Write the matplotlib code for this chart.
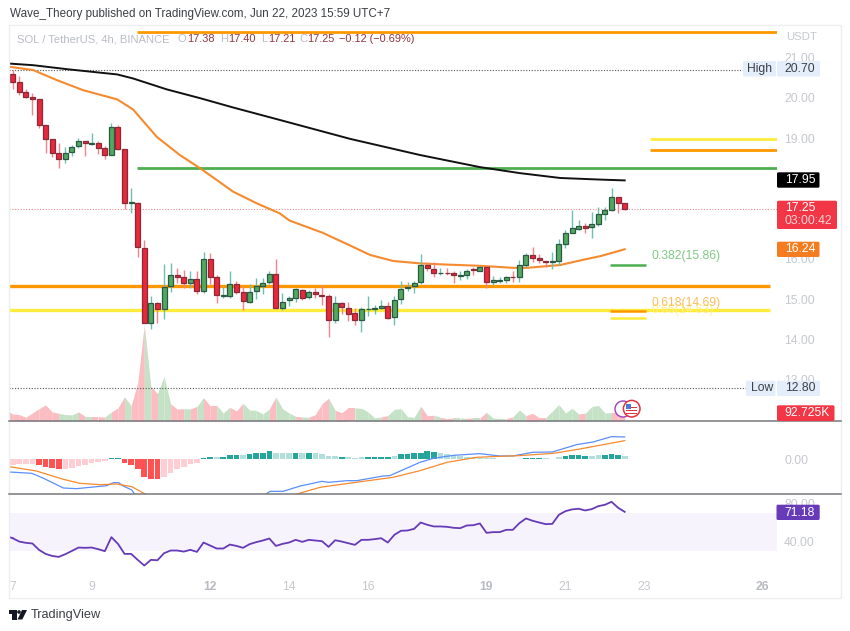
import matplotlib
matplotlib.use('Agg')
import matplotlib.pyplot as plt
from matplotlib.patches import FancyBboxPatch, Rectangle, Polygon, Circle
import numpy as np

# 4h candles
opens = [20.59, 20.40, 20.15, 20.01, 19.96, 19.32, 18.97, 18.63, 18.47, 18.65, 18.80, 18.92, 18.86, 18.89, 18.76, 18.58, 19.27, 18.72, 17.39, 17.40,
         16.27, 14.42, 14.91, 14.77, 15.32, 15.60, 15.56, 15.40, 15.51, 15.21, 15.99, 15.54, 15.07, 15.09, 15.39, 15.18, 14.94, 15.20, 15.33, 15.43,
         15.63, 14.79, 14.97, 15.02, 15.23, 15.05, 15.19, 15.10, 15.07, 14.49, 14.91, 14.79, 14.65, 14.48, 14.75, 14.77, 14.79, 14.84, 14.57, 15.01,
         15.27, 15.32, 15.42, 15.86, 15.75, 15.64, 15.65, 15.64, 15.58, 15.59, 15.74, 15.71, 15.81, 15.44, 15.45, 15.48, 15.56, 15.56, 15.86, 16.09,
         16.02, 15.96, 15.93, 15.95, 16.36, 16.65, 16.75, 16.82, 16.79, 16.88, 17.12, 17.22, 17.53, 17.38]
closes = [20.40, 20.15, 20.02, 19.96, 19.32, 18.97, 18.64, 18.47, 18.64, 18.79, 18.92, 18.87, 18.88, 18.76, 18.59, 19.27, 18.72, 17.40, 17.41, 16.29,
          14.42, 14.91, 14.77, 15.31, 15.60, 15.56, 15.40, 15.51, 15.21, 15.99, 15.55, 15.10, 15.10, 15.39, 15.19, 14.95, 15.17, 15.33, 15.41, 15.63,
          14.79, 14.94, 15.02, 15.25, 15.04, 15.18, 15.12, 15.09, 14.48, 14.91, 14.80, 14.64, 14.48, 14.76, 14.77, 14.78, 14.84, 14.54, 14.99, 15.26,
          15.30, 15.41, 15.84, 15.77, 15.64, 15.65, 15.64, 15.59, 15.59, 15.70, 15.73, 15.79, 15.44, 15.47, 15.48, 15.55, 15.55, 15.84, 16.09, 16.02,
          15.97, 15.93, 15.94, 16.36, 16.64, 16.76, 16.83, 16.78, 16.88, 17.12, 17.22, 17.53, 17.38, 17.25]
highs = [20.69, 20.54, 20.23, 20.11, 19.98, 19.33, 18.98, 18.89, 18.79, 18.83, 19.01, 18.94, 19.12, 18.94, 18.80, 19.38, 19.32, 18.73, 17.75, 17.41,
         16.47, 15.07, 14.92, 15.87, 15.89, 15.78, 15.73, 15.70, 15.69, 16.18, 16.16, 15.60, 15.31, 15.70, 15.46, 15.33, 15.38, 15.52, 15.52, 15.69,
         16.00, 15.15, 15.08, 15.27, 15.26, 15.23, 15.29, 15.35, 15.13, 15.08, 14.92, 14.92, 14.78, 14.80, 15.07, 14.86, 14.98, 14.93, 15.08, 15.46,
         15.44, 15.45, 16.12, 15.93, 15.92, 15.78, 15.77, 15.69, 15.69, 15.74, 15.79, 15.83, 15.83, 15.58, 15.54, 15.58, 15.69, 15.98, 16.14, 16.29,
         16.12, 15.96, 16.18, 16.50, 16.72, 17.22, 16.97, 16.90, 17.17, 17.28, 17.30, 17.75, 17.54, 17.40]
lows = [20.23, 20.07, 19.99, 19.57, 19.24, 18.62, 18.52, 18.25, 18.39, 18.56, 18.75, 18.56, 18.83, 18.61, 18.47, 18.57, 18.70, 17.23, 17.13, 16.04,
        14.40, 14.26, 14.42, 14.52, 15.19, 15.40, 15.27, 15.29, 15.12, 15.15, 15.38, 14.90, 15.02, 15.02, 15.12, 14.73, 14.90, 15.00, 15.12, 15.38,
        14.78, 14.73, 14.83, 14.92, 14.98, 15.00, 15.02, 14.86, 14.06, 14.42, 14.64, 14.45, 14.36, 14.18, 14.59, 14.63, 14.75, 14.52, 14.37, 14.88,
        15.21, 15.16, 15.37, 15.71, 15.56, 15.60, 15.60, 15.41, 15.48, 15.50, 15.60, 15.69, 15.27, 15.35, 15.41, 15.41, 15.44, 15.44, 15.79, 15.93,
        15.89, 15.79, 15.74, 15.85, 16.28, 16.64, 16.72, 16.64, 16.53, 16.82, 16.97, 17.20, 17.15, 17.21]

# volume in thousands
volumes = [68, 62, 37, 77, 117, 151, 87, 74, 62, 59, 87, 46, 43, 43, 40, 87, 124, 226, 145, 355,
           896, 324, 256, 417, 161, 114, 117, 114, 139, 219, 145, 148, 77, 130, 96, 167, 105, 102, 68, 114,
           226, 117, 77, 46, 40, 37, 62, 164, 213, 102, 80, 124, 124, 121, 87, 31, 40, 53, 111, 117,
           43, 37, 139, 53, 56, 37, 25, 31, 31, 28, 31, 31, 83, 31, 25, 25, 40, 105, 53, 74,
           34, 34, 93, 155, 77, 121, 68, 74, 136, 148, 77, 80, 93, 92.725]
# the candle just before the first full one, cut off by the left edge
volume_before = 105
rsi_before = 46.0

# moving averages, sampled along the curves
ma_black_x = [-0.5, 3.1, 8.3, 15.9, 18.3, 23.4, 28.5, 33.5, 40.6, 51.3, 61.9, 71, 77.1, 83.2, 89.3, 93]
ma_black = [20.85, 20.81, 20.71, 20.58, 20.48, 20.21, 19.99, 19.76, 19.45, 18.98, 18.58, 18.28, 18.13, 18.01, 17.97, 17.95]
ma_orange_x = [-0.5, 3.1, 6.7, 10.7, 15.9, 18.3, 21.9, 25.4, 28.5, 33.5, 37.1, 40.6, 42.1, 47.1, 50.8, 54.3, 57.8, 61.9, 66, 71, 76, 78.2, 83.2, 86.7, 89.3, 93]
ma_orange = [20.77, 20.69, 20.44, 20.19, 19.96, 19.71, 19.03, 18.58, 18.25, 17.67, 17.38, 17.13, 16.95, 16.65, 16.37, 16.10, 15.95, 15.89, 15.86, 15.83, 15.78, 15.78, 15.85, 15.98, 16.07, 16.24]

# MACD, in units of the pane (zero line = 0)
macd_hist = [-16, -14, -13, -13, -17, -23, -27, -30, -30, -26, -20, -16, -11, -8, -6, 4, 3, -10, -16, -30,
             -52, -60, -60, -52, -40, -30, -22, -15, -10, 5, 8, 8, 8, 12, 14, 12, 15, 18, 20, 25,
             20, 18, 18, 18, 18, 18, 18, 16, 11, 11, 8, 8, 5, 6, 7, 8, 8, 6, 10, 15,
             17, 18, 20, 24, 22, 19, 17, 12, 9, 8, 6, 5, 5, 3, 1, 1, 1, 2, 4, 5,
             4, 3, 2, 6, 10, 13, 14, 11, 11, 14, 14, 15, 12, 9]
macd_shade = 'llllddddlllllllddddddddllllllddlddd' + 'lddddllldldlllldlllddddlddddddl' + 'lllllllllllldddlllddddlldddll'
macd_x = [-0.5, 2.9, 4.7, 7.7, 9.7, 14.3, 15.3, 16.1, 16.8, 18.1, 18.6, 25, 32, 38.3, 39.1, 41.1, 43.7, 47, 48, 50.8, 52.3, 56.3, 57.3, 61.9, 63.9, 67, 71, 74, 76, 79, 82, 85.7, 88.2, 91, 93]
macd_line = [-38, -42, -57, -86, -88, -79, -70, -70, -80, -92, -107, -150, -150, -107, -96, -96, -80, -66, -69, -64, -64, -50, -49, -9, 3, 12, 17, 10, 10, 21, 22, 44, 52, 68, 67]
signal_x = [-0.5, 3.6, 7.7, 10.2, 13.3, 15.8, 18.1, 20.4, 27, 35, 43.2, 46.7, 51.8, 57.8, 61.9, 66, 70.5, 74, 77, 82.2, 86.2, 93]
signal_line = [-22, -35, -60, -72, -76, -74, -82, -107, -160, -160, -104, -84, -70, -54, -34, -9, 6, 9, 11, 18, 31, 56]

rsi = [43.8, 40.3, 39.0, 38.3, 31.7, 27.5, 25.4, 24.4, 27.2, 30.6, 34.1, 33.8, 34.1, 32.4, 30.3, 44.9, 37.9, 27.5, 27.5, 21.3,
       15.4, 21.3, 20.9, 28.2, 31.0, 31.0, 29.9, 31.7, 29.6, 39.3, 36.2, 33.1, 33.1, 37.2, 35.8, 33.8, 37.6, 39.7, 41.4, 43.5,
       35.8, 37.9, 39.3, 42.1, 40.0, 42.1, 41.4, 40.7, 34.8, 41.7, 40.3, 38.6, 36.9, 42.1, 42.1, 42.8, 43.8, 39.3, 47.3, 51.5,
       51.8, 53.5, 60.1, 57.7, 56.0, 56.0, 55.6, 54.6, 54.2, 57.0, 57.3, 59.1, 49.4, 50.1, 50.1, 52.5, 52.5, 59.4, 64.3, 61.9,
       60.1, 58.4, 58.7, 68.1, 71.9, 73.7, 74.4, 72.6, 74.0, 77.1, 78.5, 81.6, 75.4, 71.18]

day_labels = ['7', '9', '12', '14', '16', '19', '21', '23', '26']
day_bold = ['12', '19', '26']
price_ticks = [13, 14, 15, 16, 17, 18, 19, 20, 21]

plt.rcParams['font.family'] = ['Liberation Sans', 'DejaVu Sans']

W = 850.0
H = 631.0
X_LEFT = 9.0
X_RIGHT = 776.7
XMIN = -0.56
XMAX = 116.1
GRAY = '#c6c8ce'


def pane(top, bottom):
    ax = fig.add_axes([X_LEFT / W, 1 - bottom / H, (X_RIGHT - X_LEFT) / W, (bottom - top) / H])
    ax.set_xlim(XMIN, XMAX)
    ax.set_xticks([])
    ax.set_yticks([])
    for s in ax.spines.values():
        s.set_visible(False)
    ax.patch.set_alpha(0)
    return ax


def box(x0, y0, x1, y1, color):
    over.add_patch(FancyBboxPatch((x0, y0), x1 - x0, y1 - y0, boxstyle='round,pad=0,rounding_size=1.5',
                                  fc=color, ec='none', zorder=5))


def label(x, y, s, color, size=8.7, **kw):
    over.text(x, y, s, color=color, fontsize=size, va='center', zorder=6, **kw)


fig = plt.figure(figsize=(8.5, 6.31), dpi=100, facecolor='white')
idx = np.arange(len(opens))
opens = np.array(opens)
closes = np.array(closes)
highs = np.array(highs)
lows = np.array(lows)
up = closes >= opens

# volume sits under the candles, in the same pane
ax_vol = pane(24.5, 421.3)
ax_vol.set_ylim(0, 3678)
ax_vol.fill_between([-1, 0], [volume_before, volumes[0]], 0, color='#fbbcc2', lw=0)
for i in range(1, len(volumes)):
    c = '#c5e2c6' if up[i] else '#fbbcc2'
    ax_vol.fill_between(idx[i - 1:i + 1], volumes[i - 1:i + 1], 0, color=c, lw=0)

ax = pane(24.5, 421.3)
ax.set_ylim(11.97, 21.82)
ax.yaxis.tick_right()
ax.set_yticks(price_ticks)
ax.set_yticklabels(['%.2f' % p for p in price_ticks])
ax.tick_params(axis='y', length=0, labelcolor=GRAY, labelsize=8.7, pad=5.3)

# dotted levels
ax.hlines(20.70, XMIN, 111, color='#555555', lw=0.8, linestyles=(0, (1, 1.5)))
ax.hlines(12.80, XMIN, 111.4, color='#555555', lw=0.8, linestyles=(0, (1, 1.5)))
ax.hlines(17.25, XMIN, XMAX, color='#ef8f8a', lw=0.8, linestyles=(0, (1, 1.5)))

# drawings
ax.hlines(21.63, 18.9, XMAX, color='#ff9800', lw=2)
ax.hlines(18.27, 18.9, XMAX, color='#4caf50', lw=2)
ax.hlines(18.99, 96.85, XMAX, color='#ffeb3b', lw=2)
ax.hlines(18.70, 96.85, XMAX, color='#ff9800', lw=2)
ax.hlines(15.34, XMIN, 115.1, color='#ff9800', lw=2.4)
ax.hlines(14.73, XMIN, 115.1, color='#ffeb3b', lw=2.4)
ax.hlines(15.85, 90.8, 96.2, color='#4caf50', lw=1.8)
ax.hlines(14.70, 90.8, 96.2, color='#ff9800', lw=1.8)
ax.hlines(14.54, 90.8, 96.2, color='#ffeb3b', lw=1.8)

ax.plot(ma_black_x, ma_black, color='#111111', lw=1.4, zorder=3)
ax.plot(ma_orange_x, ma_orange, color='#f58a2e', lw=1.5, zorder=3)

# candles
wick_c = ['#6cc0b0' if u else '#f5828c' for u in up]
body_c = ['#53a860' if u else '#e9283c' for u in up]
edge_c = ['#2b5a44' if u else '#8a2a38' for u in up]
ax.vlines(idx, lows, highs, colors=wick_c, lw=1.0, zorder=4)
ax.bar(idx, np.abs(closes - opens), bottom=np.minimum(opens, closes), width=0.76,
       color=body_c, edgecolor=edge_c, lw=0.9, zorder=5)

# MACD
ax_macd = pane(421.3, 494)
ax_macd.set_ylim(-104, 114)
hist_c = []
for h, s in zip(macd_hist, macd_shade):
    if h >= 0:
        hist_c.append('#26a69a' if s == 'd' else '#b2dfdb')
    else:
        hist_c.append('#ff5252' if s == 'd' else '#ffcdd2')
ax_macd.bar(idx, macd_hist, width=0.86, color=hist_c)
ax_macd.plot(macd_x, macd_line, color='#5b8ff9', lw=0.9)
ax_macd.plot(signal_x, signal_line, color='#f58a2e', lw=0.9)
ax_macd.yaxis.tick_right()
ax_macd.set_yticks([0])
ax_macd.set_yticklabels(['0.00'])
ax_macd.tick_params(axis='y', length=0, labelcolor=GRAY, labelsize=8.7, pad=5.3)

# RSI
ax_rsi = pane(494, 598)
ax_rsi.set_ylim(-18.3, 89.7)
ax_rsi.axhspan(30, 70, color='#f6f3fc', lw=0)
ax_rsi.plot([-1, 0], [rsi_before, rsi[0]], color='#673ab7', lw=1.3)
ax_rsi.plot(idx, rsi, color='#673ab7', lw=1.3)
ax_rsi.yaxis.tick_right()
ax_rsi.set_yticks([40, 80])
ax_rsi.set_yticklabels(['40.00', '80.00'])
ax_rsi.tick_params(axis='y', length=0, labelcolor=GRAY, labelsize=8.7, pad=5.3)

for d in day_labels:
    pos = (int(d) - 7) * 6
    if d in day_bold:
        ax_rsi.text(pos, -7, d, color='#b9bbc2', fontsize=8.7, fontweight='bold', ha='center', va='center')
    else:
        ax_rsi.text(pos, -7, d, color=GRAY, fontsize=8.7, ha='center', va='center')

# overlay in picture pixels, for the frame, labels and boxes
over = fig.add_axes([0, 0, 1, 1], zorder=10)
over.set_xlim(0, W)
over.set_ylim(H, 0)
over.axis('off')

over.add_patch(Rectangle((X_LEFT, 24.5), 840.7 - X_LEFT, 598 - 24.5, fc='none', ec='#eceef1', lw=1))
over.plot([X_LEFT, 840.7], [421.3, 421.3], color='#77777d', lw=1.1)
over.plot([X_LEFT, 840.7], [494, 494], color='#77777d', lw=1.1)

label(10, 14.5, 'Wave_Theory published on TradingView.com, Jun 22, 2023 15:59 UTC+7', '#3c3f45', size=8.35)
label(17, 39.5, 'SOL / TetherUS, 4h, BINANCE', '#b9bcc5', size=8.1)
for x, s in [(178, 'O'), (220, 'H'), (261, 'L'), (299, 'C')]:
    label(x, 39.5, s, '#b9bcc5', size=8.0)
for x, s in [(187, '17.38'), (228, '17.40'), (268, '17.21'), (307, '17.25'), (339, '\u22120.12 (\u22120.69%)')]:
    label(x, 39.5, s, '#93363f', size=7.9)
label(786, 37, 'USDT', GRAY, size=8.2)

box(743, 61, 776, 76.5, '#e3eefa')
box(777, 61, 820, 76.5, '#e3eefa')
label(747.5, 68.7, 'High', '#3c3f45')
label(784.5, 68.7, '20.70', '#3c3f45')
box(746, 380.7, 775.5, 396, '#e3eefa')
box(777, 380.7, 820, 396, '#e3eefa')
label(751, 388.4, 'Low', '#3c3f45')
label(785, 388.4, '12.80', '#3c3f45')

box(777, 172.3, 819.5, 187.7, '#000000')
label(785, 180, '17.95', 'white')
box(777, 200.7, 837, 229, '#f23645')
label(785, 207.7, '17.25', 'white')
label(784.5, 221.5, '03:00:42', '#fbd4d8')
box(777, 241.7, 819.5, 257, '#f57c1f')
label(785, 249.5, '16.24', 'white')
box(777, 405.3, 834.5, 421, '#f23645')
label(784.5, 413.3, '92.725K', 'white')
box(776.5, 504.7, 819.7, 520, '#673ab7')
label(784.5, 512.5, '71.18', 'white')

label(652, 256, '0.382(15.86)', '#7fca84')
label(652, 310, '0.65(14.53)', '#fdf08c')
label(652, 303, '0.618(14.69)', '#ffbe5c')

# event icons on the volume
over.add_patch(Circle((623, 409), 8, fc='white', ec='#a23cc0', lw=1, zorder=3))
over.add_patch(Circle((631.7, 408.7), 8.3, fc='white', ec='#e2333f', lw=1.1, zorder=4))
for yy in [406.5, 409.5, 412.5]:
    over.add_patch(Rectangle((626.5, yy), 10.5, 1.4, fc='#e2333f', ec='none', zorder=5))
over.add_patch(Rectangle((626.5, 403.5), 5, 5, fc='#4a7bd0', ec='none', zorder=5))

# TradingView mark
over.add_patch(Polygon([(9, 610), (16.7, 610), (16.7, 619.5), (12.4, 619.5), (12.4, 613.5), (9, 613.5)], fc='#131722', ec='none'))
over.add_patch(Circle((19, 612), 1.8, fc='#131722', ec='none'))
over.add_patch(Polygon([(22, 610), (27, 610), (22.3, 619.5), (17.5, 619.5)], fc='#131722', ec='none'))
label(31, 615, 'TradingView', '#3c3f45', size=9.2)

fig.savefig('out.png', dpi=100)
